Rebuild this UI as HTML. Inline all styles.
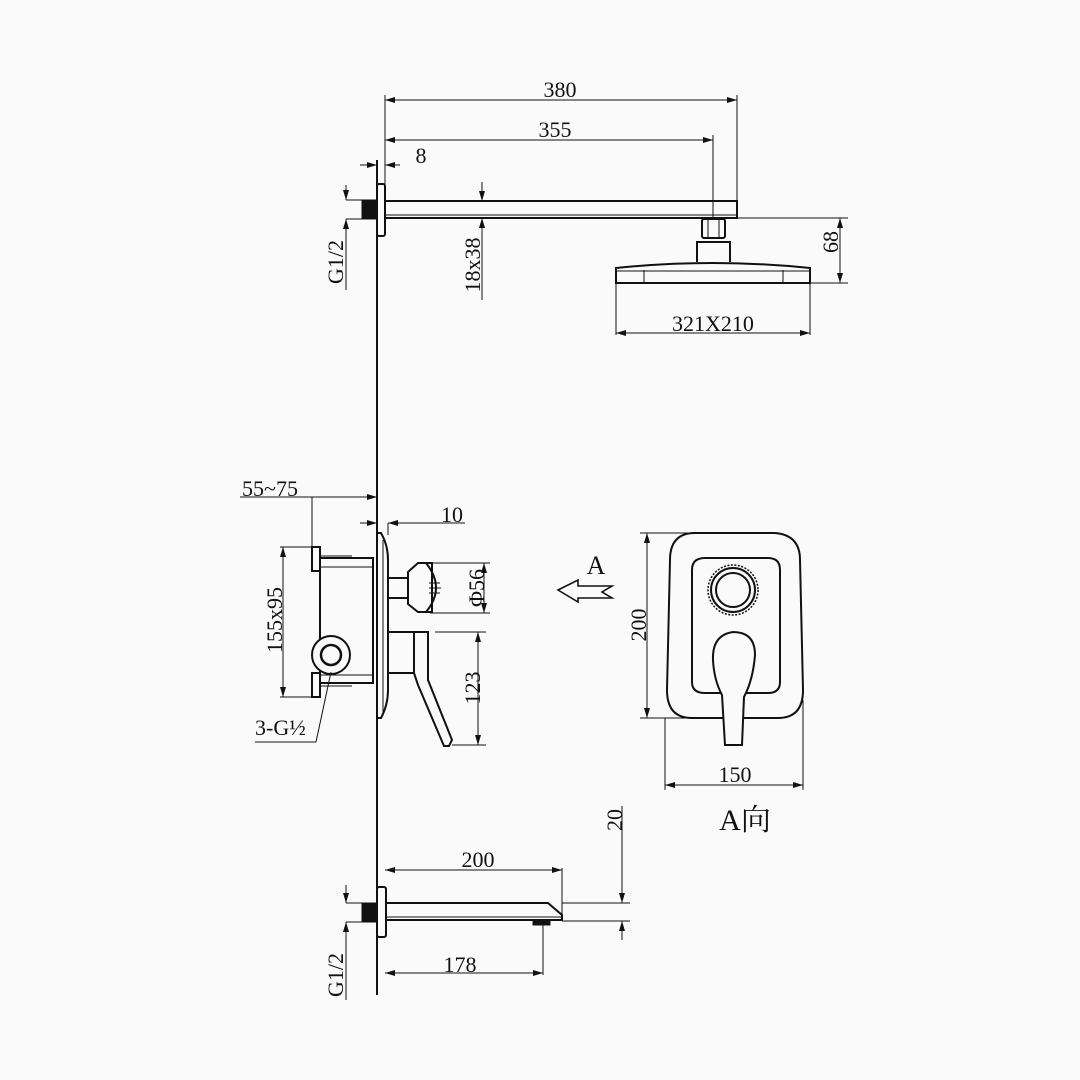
<!DOCTYPE html>
<html><head><meta charset="utf-8"><style>
html,body{margin:0;padding:0;background:#fafafa}
svg{display:block}
text{font-family:"Liberation Serif","Noto Serif CJK SC",serif;fill:#111}
</style></head><body>
<svg width="1080" height="1080" viewBox="0 0 1080 1080" xmlns="http://www.w3.org/2000/svg">
<defs>
<marker id="a" viewBox="0 0 10 6" refX="10" refY="3" markerWidth="10" markerHeight="6" orient="auto-start-reverse" markerUnits="userSpaceOnUse"><path d="M0,0L10,3L0,6z" fill="#111"/></marker>
</defs>
<rect width="1080" height="1080" fill="#fafafa"/>
<g stroke="#111" fill="none" stroke-width="1">
<!-- wall -->
<line x1="377" y1="160" x2="377" y2="995" stroke-width="2"/>

<!-- TOP ARM -->
<rect x="377" y="184" width="8" height="52" rx="2" stroke-width="2"/>
<rect x="362" y="200" width="15" height="19" fill="#111"/>
<rect x="385" y="201" width="352" height="17" stroke-width="2"/>
<line x1="385" y1="215" x2="737" y2="215"/>
<rect x="702" y="219" width="23" height="19" rx="2" stroke-width="2"/>
<line x1="708" y1="219" x2="708" y2="238"/><line x1="719" y1="219" x2="719" y2="238"/>
<path d="M697,262 L697,242 L730,242 L730,262" stroke-width="2"/>
<path d="M616,268 Q713,258 810,268 L810,283 L616,283 Z" stroke-width="2"/>
<line x1="616" y1="271" x2="810" y2="271"/>
<line x1="644" y1="270" x2="644" y2="283"/><line x1="783" y1="270" x2="783" y2="283"/>

<!-- top dims -->
<line x1="385" y1="95" x2="385" y2="200"/>
<line x1="737" y1="95" x2="737" y2="200"/>
<line x1="713" y1="135" x2="713" y2="218"/>
<line x1="385" y1="100" x2="737" y2="100" marker-start="url(#a)" marker-end="url(#a)"/>
<line x1="385" y1="140" x2="713" y2="140" marker-start="url(#a)" marker-end="url(#a)"/>
<line x1="360" y1="165" x2="377" y2="165" marker-end="url(#a)"/>
<line x1="400" y1="165" x2="385" y2="165" marker-end="url(#a)"/>
<line x1="377" y1="160" x2="377" y2="184"/>
<line x1="346" y1="185" x2="346" y2="200" marker-end="url(#a)"/>
<line x1="346" y1="290" x2="346" y2="219" marker-end="url(#a)"/>
<line x1="346" y1="200" x2="362" y2="200"/><line x1="346" y1="219" x2="362" y2="219"/>
<line x1="482" y1="182" x2="482" y2="201" marker-end="url(#a)"/>
<line x1="482" y1="300" x2="482" y2="218" marker-end="url(#a)"/>
<line x1="737" y1="218" x2="848" y2="218"/><line x1="810" y1="283" x2="848" y2="283"/>
<line x1="840" y1="218" x2="840" y2="283" marker-start="url(#a)" marker-end="url(#a)"/>
<line x1="616" y1="283" x2="616" y2="335"/><line x1="810" y1="283" x2="810" y2="335"/>
<line x1="616" y1="333" x2="810" y2="333" marker-start="url(#a)" marker-end="url(#a)"/>

<!-- MIDDLE side -->
<line x1="312" y1="497" x2="377" y2="497" marker-end="url(#a)"/>
<line x1="240" y1="497" x2="312" y2="497"/>
<line x1="312" y1="497" x2="312" y2="548"/>
<line x1="360" y1="523" x2="377" y2="523" marker-end="url(#a)"/>
<line x1="465" y1="523" x2="388" y2="523" marker-end="url(#a)"/>
<line x1="388" y1="523" x2="388" y2="535"/>
<path d="M377,533 L381,533 Q388,545 388,560 L388,690 Q388,705 381,718 L377,718" stroke-width="2"/>
<line x1="383" y1="540" x2="383" y2="712"/>
<rect x="320" y="558" width="53" height="125" stroke-width="2"/>
<line x1="320" y1="567" x2="373" y2="567"/><line x1="320" y1="675" x2="373" y2="675"/>
<rect x="312" y="547" width="8" height="24" stroke-width="2"/>
<rect x="312" y="673" width="8" height="24" stroke-width="2"/>
<line x1="320" y1="556" x2="352" y2="556"/><line x1="320" y1="686" x2="352" y2="686"/>
<circle cx="331" cy="655" r="19" fill="#fafafa" stroke-width="2"/>
<circle cx="331" cy="655" r="10" stroke-width="2.5"/>
<line x1="331" y1="672" x2="316" y2="742"/><line x1="316" y1="742" x2="255" y2="742"/>
<line x1="280" y1="547" x2="312" y2="547"/><line x1="280" y1="697" x2="312" y2="697"/>
<line x1="283" y1="547" x2="283" y2="697" marker-start="url(#a)" marker-end="url(#a)"/>
<!-- knob -->
<rect x="388" y="578" width="20" height="20" stroke-width="2"/>
<path d="M408,572 L418,563 L432,563 L432,612 L418,612 L408,604 Z" stroke-width="2"/>
<path d="M426,563 Q446,588 426,612" stroke-width="2"/>
<line x1="429" y1="583" x2="440" y2="583"/><line x1="429" y1="588" x2="441" y2="588"/><line x1="429" y1="593" x2="440" y2="593"/>
<line x1="430" y1="563" x2="490" y2="563"/><line x1="430" y1="613" x2="490" y2="613"/>
<line x1="484" y1="563" x2="484" y2="613" marker-start="url(#a)" marker-end="url(#a)"/>
<!-- lever -->
<rect x="388" y="632" width="26" height="41" stroke-width="2"/>
<path d="M414,632 L428,632 L428,680 L452,740 L449,746 L444,746 L418,685 L414,673" stroke-width="2"/>
<line x1="435" y1="632" x2="486" y2="632"/><line x1="452" y1="745" x2="486" y2="745"/>
<line x1="478" y1="632" x2="478" y2="745" marker-start="url(#a)" marker-end="url(#a)"/>

<!-- A arrow -->
<path d="M558,590 L578,580 L578,586 L612,586 L602,592 L612,598 L578,598 L578,602 Z" stroke-width="1.6"/>

<!-- FRONT view -->
<path d="M695,533 L775,533 Q800,535 800,560 L803,690 Q803,718 778,718 L692,718 Q667,718 667,690 L670,560 Q670,533 695,533 Z" stroke-width="2"/>
<path d="M705,558 L768,558 Q780,558 780,570 L780,682 Q780,693 768,693 L705,693 Q692,693 692,682 L692,570 Q692,558 705,558 Z" stroke-width="2"/>
<circle cx="733" cy="590" r="25" stroke-width="1.5" stroke-dasharray="2 1.5"/>
<circle cx="733" cy="590" r="22" stroke-width="2"/>
<circle cx="733" cy="590" r="17" stroke-width="2"/>
<path d="M725,745 L722,695 Q714,680 713,660 Q712,635 733,632 Q755,632 755,655 Q753,680 744,697 L742,745 Z" fill="#fafafa" stroke-width="2"/>
<line x1="640" y1="533" x2="700" y2="533"/><line x1="640" y1="718" x2="700" y2="718"/>
<line x1="647" y1="533" x2="647" y2="718" marker-start="url(#a)" marker-end="url(#a)"/>
<line x1="665" y1="718" x2="665" y2="790"/><line x1="803" y1="700" x2="803" y2="790"/>
<line x1="665" y1="785" x2="803" y2="785" marker-start="url(#a)" marker-end="url(#a)"/>

<!-- BOTTOM spout -->
<rect x="377" y="887" width="9" height="50" rx="2" stroke-width="2"/>
<rect x="362" y="903" width="15" height="19" fill="#111"/>
<path d="M386,903 L548,903 L562,915 L562,920 L386,920" stroke-width="2"/>
<line x1="386" y1="917" x2="562" y2="917"/>
<rect x="533" y="921" width="17" height="4" fill="#111"/>
<line x1="562" y1="868" x2="562" y2="915"/>
<line x1="385" y1="870" x2="562" y2="870" marker-start="url(#a)" marker-end="url(#a)"/>
<line x1="543" y1="925" x2="543" y2="975"/>
<line x1="385" y1="973" x2="543" y2="973" marker-start="url(#a)" marker-end="url(#a)"/>
<line x1="562" y1="903" x2="630" y2="903"/><line x1="562" y1="921" x2="630" y2="921"/>
<line x1="622" y1="806" x2="622" y2="903" marker-end="url(#a)"/>
<line x1="622" y1="940" x2="622" y2="921" marker-end="url(#a)"/>
<line x1="346" y1="885" x2="346" y2="903" marker-end="url(#a)"/>
<line x1="346" y1="1000" x2="346" y2="922" marker-end="url(#a)"/>
<line x1="346" y1="903" x2="362" y2="903"/><line x1="346" y1="922" x2="362" y2="922"/>
</g>

<g font-size="22">
<text x="560" y="97" text-anchor="middle">380</text>
<text x="555" y="137" text-anchor="middle">355</text>
<text x="421" y="163" text-anchor="middle">8</text>
<text x="713" y="331" text-anchor="middle">321X210</text>
<text transform="translate(343,262) rotate(-90)" text-anchor="middle">G1/2</text>
<text transform="translate(480,265) rotate(-90)" text-anchor="middle">18x38</text>
<text transform="translate(838,242) rotate(-90)" text-anchor="middle">68</text>
<text x="270" y="496" text-anchor="middle">55~75</text>
<text x="452" y="522" text-anchor="middle">10</text>
<text transform="translate(282,620) rotate(-90)" text-anchor="middle">155x95</text>
<text transform="translate(484,588) rotate(-90)" text-anchor="middle">Φ56</text>
<text transform="translate(480,688) rotate(-90)" text-anchor="middle">123</text>
<text x="255" y="735">3-G½</text>
<text x="596" y="574" text-anchor="middle" font-size="26">A</text>
<text transform="translate(646,625) rotate(-90)" text-anchor="middle">200</text>
<text x="735" y="782" text-anchor="middle">150</text>
<text x="745" y="830" text-anchor="middle" font-size="30">A向</text>
<text transform="translate(622,820) rotate(-90)" text-anchor="middle">20</text>
<text x="478" y="867" text-anchor="middle">200</text>
<text x="460" y="972" text-anchor="middle">178</text>
<text transform="translate(343,975) rotate(-90)" text-anchor="middle">G1/2</text>
</g>
</svg>
</body></html>
